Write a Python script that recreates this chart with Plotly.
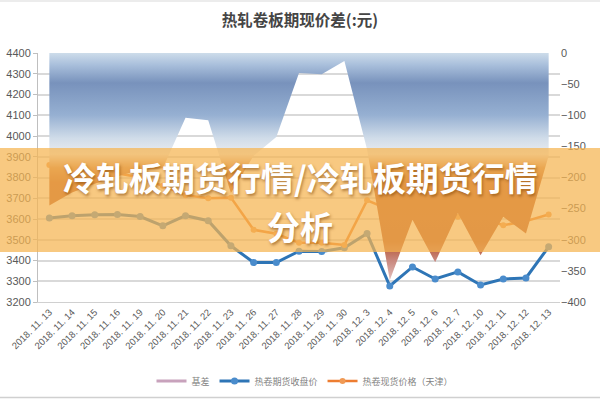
import plotly.graph_objects as go

dates = ["2018. 11. 13", "2018. 11. 14", "2018. 11. 15", "2018. 11. 16", "2018. 11. 19",
         "2018. 11. 20", "2018. 11. 21", "2018. 11. 22", "2018. 11. 23", "2018. 11. 26",
         "2018. 11. 27", "2018. 11. 28", "2018. 11. 29", "2018. 11. 30", "2018. 12. 3",
         "2018. 12. 4", "2018. 12. 5", "2018. 12. 6", "2018. 12. 7", "2018. 12. 10",
         "2018. 12. 11", "2018. 12. 12", "2018. 12. 13"]
basis = [-245, -224, -210, -198, -188, -185, -104, -108, -225, -165, -135, -32, -34, -13,
         -155, -365, -268, -336, -257, -325, -263, -290, -165]
futures = [3605, 3616, 3620, 3622, 3612, 3567, 3616, 3592, 3471, 3390, 3390, 3445, 3443,
           3461, 3530, 3277, 3369, 3311, 3345, 3282, 3311, 3316, 3466]
spot = [3860, 3840, 3830, 3820, 3800, 3760, 3715, 3700, 3703, 3548, 3529, 3485, 3485,
        3475, 3690, 3645, 3645, 3645, 3611, 3606, 3570, 3590, 3622]

left_ticks = list(range(3200, 4401, 100))
right_ticks = list(range(-400, 1, 50))

W, H = 600, 400
L, R, T, B = 38, 40, 53, 98
pw, ph = W - L - R, H - T - B

def px_x(p):
    return (p - L) / pw

def px_y(p):
    return (H - B - p) / ph

fig = go.Figure()

fig.add_trace(go.Scatter(
    x=dates, y=basis, yaxis="y2", mode="lines", fill="tozeroy",
    line=dict(width=0, color="rgba(0,0,0,0)"),
    fillgradient=dict(
        type="vertical", start=0, stop=-370,
        colorscale=[
            [0.00, "rgb(205,220,234)"],
            [0.05, "rgb(170,192,220)"],
            [0.13, "rgb(120,146,188)"],
            [0.27, "rgb(150,176,210)"],
            [0.37, "rgb(208,220,233)"],
            [0.44, "rgb(235,236,240)"],
            [0.50, "rgb(205,130,80)"],
            [0.56, "rgb(185,85,40)"],
            [0.82, "rgb(180,80,45)"],
            [0.90, "rgb(200,135,125)"],
            [1.00, "rgb(230,200,200)"],
        ]),
    showlegend=False, hoverinfo="skip"))

# legend entry for basis (double-line style swatch)
fig.add_trace(go.Scatter(x=[None], y=[None], mode="lines", name="基差",
                         line=dict(color="#c8a2bc", width=3)))

fig.add_trace(go.Scatter(
    x=dates, y=futures, mode="lines+markers", name="热卷期货收盘价",
    line=dict(color="#2e75b6", width=3),
    marker=dict(size=7, color="#4a8ccc", line=dict(width=0))))

fig.add_trace(go.Scatter(
    x=dates, y=spot, mode="lines+markers", name="热卷现货价格（天津）",
    line=dict(color="#ed7d31", width=2.5),
    marker=dict(size=6, color="#f09a55", line=dict(width=0))))

# semi-transparent banner
fig.add_shape(type="rect", xref="paper", yref="paper",
              x0=px_x(0), x1=px_x(W), y0=px_y(252), y1=px_y(148),
              fillcolor="rgba(245,180,80,0.72)", line=dict(width=0), layer="above")

# frame lines
fig.add_shape(type="line", xref="paper", yref="paper",
              x0=px_x(0), x1=px_x(W), y0=px_y(397.5), y1=px_y(397.5),
              line=dict(color="#d0d0d0", width=1.5), layer="above")
fig.add_shape(type="line", xref="paper", yref="paper",
              x0=px_x(0), x1=px_x(W), y0=px_y(1), y1=px_y(1),
              line=dict(color="#e6e6e6", width=1.5), layer="above")

shadow = "1px 2px 3px rgba(120,60,0,0.55)"
banner_font = dict(family="Noto Sans CJK SC", size=33, color="white",
                   weight="bold", shadow=shadow)
fig.add_annotation(text="冷轧板期货行情/冷轧板期货行情", xref="paper", yref="paper",
                   x=px_x(300), y=px_y(177), xanchor="center", yanchor="middle",
                   showarrow=False, font=banner_font)
fig.add_annotation(text="分析", xref="paper", yref="paper",
                   x=px_x(300), y=px_y(226), xanchor="center", yanchor="middle",
                   showarrow=False, font=banner_font)

fig.update_layout(
    width=W, height=H,
    margin=dict(l=L, r=R, t=T, b=B, autoexpand=False),
    paper_bgcolor="white", plot_bgcolor="white",
    title=dict(text="热轧卷板期现价差(:元)", x=0.5, xanchor="center",
               y=1 - 21 / H, yanchor="middle",
               font=dict(family="Noto Sans CJK SC", size=15.5, color="#454545", weight="bold")),
    xaxis=dict(type="category", range=[-0.5, len(dates) - 0.5], tickangle=-45,
               tickfont=dict(family="Liberation Sans", size=9.5, color="#595959"),
               showline=True, linecolor="#d0d0d0", linewidth=1, showgrid=False,
               ticks="", automargin=False),
    yaxis=dict(range=[3200, 4400], tickvals=left_ticks,
               tickfont=dict(family="Liberation Sans", size=11, color="#595959"),
               showgrid=True, gridcolor="#d9d9d9", gridwidth=1.5,
               showline=True, linecolor="#bfbfbf", linewidth=1,
               ticks="outside", ticklen=4, tickcolor="#bfbfbf", zeroline=False,
               automargin=False),
    yaxis2=dict(range=[-400, 0], tickvals=right_ticks, overlaying="y", side="right",
                tickfont=dict(family="Liberation Sans", size=11, color="#595959"),
                showgrid=False, zeroline=False, showline=False, ticks="",
                automargin=False),
    legend=dict(orientation="h", x=px_x(305), xanchor="center", y=px_y(381), yanchor="middle",
                itemwidth=30,
                font=dict(family="Noto Sans CJK SC", size=9, color="#7f7f7f"),
                bgcolor="rgba(0,0,0,0)"),
)

fig.write_html("out.html", config={"displayModeBar": False},
               post_script="document.body.style.margin='0';document.body.style.overflow='hidden';")
